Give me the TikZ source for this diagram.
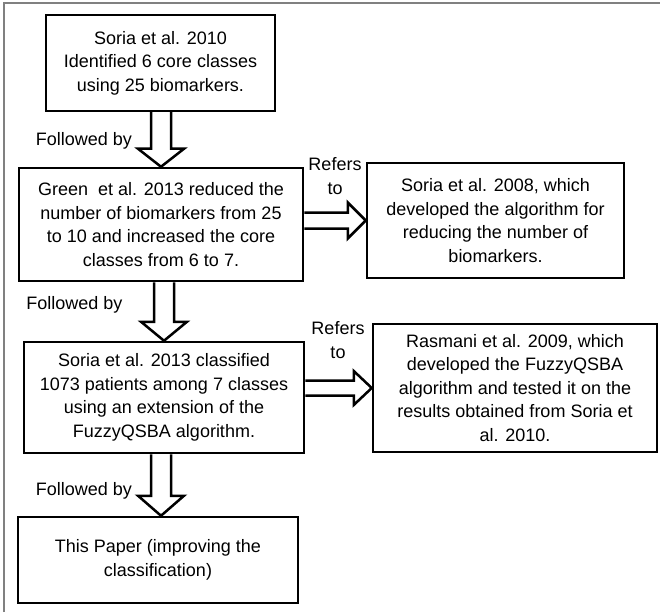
\documentclass[tikz,border=0pt]{standalone}
\usepackage{fontspec}
\setmainfont{Liberation Sans}
\usetikzlibrary{calc}

\begin{document}
\begin{tikzpicture}[x=1pt,y=-1pt,
    box/.style={draw,line width=2.5pt,align=center,inner sep=0pt,font=\fontsize{18}{23.5}\selectfont},
    hollow/.style={draw,line width=2.5pt,fill=white,line join=miter},
    note/.style={align=center,font=\fontsize{18}{23.5}\selectfont}]
      \useasboundingbox (0,0) rectangle (660,612);
      \draw[gray,line width=2pt] (4,612) -- (4,3) -- (660,3);
      % left column
      \node[box,minimum width=229pt,minimum height=96pt] (s2010) at (160.5,63)
        {Soria et al. 2010\\Identified 6 core classes\\using 25 biomarkers.};
      \node[box,minimum width=284pt,minimum height=113pt] (green) at (161,224.5)
        {Green\ \ et al. 2013 reduced the\\number of biomarkers from 25\\to 10 and increased the core\\classes from 6 to 7.};
      \node[box,minimum width=280pt,minimum height=111pt] (s2013) at (164,397.5)
        {Soria et al. 2013 classified\\1073 patients among 7 classes\\using an extension of the\\FuzzyQSBA algorithm.};
      \node[box,minimum width=280pt,minimum height=86pt] (paper) at (158,560)
        {This Paper (improving the\\classification)};
      % right column
      \node[box,minimum width=257pt,minimum height=115pt] (s2008) at (495.5,220.5)
        {Soria et al. 2008, which\\developed the algorithm for\\reducing the number of\\biomarkers.};
      \node[box,minimum width=284pt,minimum height=128pt] (rasmani) at (515,388)
        {Rasmani et al. 2009, which\\developed the FuzzyQSBA\\algorithm and tested it on the\\results obtained from Soria et\\al. 2010.};
      % down arrows
      \coordinate (d1) at (s2010.south -| green.north);
      \draw[hollow] ($(d1)+(-10,0)$) -- ($(green.north)+(-10,-18)$) -- ($(green.north)+(-23,-18)$)
        -- (green.north) -- ($(green.north)+(23,-18)$) -- ($(green.north)+(10,-18)$) -- ($(d1)+(10,0)$);
      \coordinate (d2) at (green.south -| s2013.north);
      \draw[hollow] ($(d2)+(-10,0)$) -- ($(s2013.north)+(-10,-19)$) -- ($(s2013.north)+(-23,-19)$)
        -- (s2013.north) -- ($(s2013.north)+(23,-19)$) -- ($(s2013.north)+(10,-19)$) -- ($(d2)+(10,0)$);
      \coordinate (t3) at ($(paper.north)+(3,0)$);
      \coordinate (d3) at (s2013.south -| t3);
      \draw[hollow] ($(d3)+(-10,0)$) -- ($(t3)+(-10,-20)$) -- ($(t3)+(-23,-20)$)
        -- (t3) -- ($(t3)+(23,-20)$) -- ($(t3)+(10,-20)$) -- ($(d3)+(10,0)$);
      % right arrows
      \coordinate (r1) at (green.east |- s2008.west);
      \draw[hollow] ($(r1)+(0,-8)$) -- ($(s2008.west)+(-18,-8)$) -- ($(s2008.west)+(-18,-18)$)
        -- (s2008.west) -- ($(s2008.west)+(-18,18)$) -- ($(s2008.west)+(-18,8)$) -- ($(r1)+(0,8)$);
      \coordinate (r2) at (s2013.east |- rasmani.west);
      \draw[hollow] ($(r2)+(0,-7.5)$) -- ($(rasmani.west)+(-18,-7.5)$) -- ($(rasmani.west)+(-18,-17)$)
        -- (rasmani.west) -- ($(rasmani.west)+(-18,17)$) -- ($(rasmani.west)+(-18,7.5)$) -- ($(r2)+(0,7.5)$);
      % labels
      \node[note] (fb1) at (84,141) {Followed by};
      \node[note] (fb2) at (74.5,305) {Followed by};
      \node[note] (fb3) at (84,491) {Followed by};
      \node[note] (rt1) at (335,176) {Refers\\to};
      \node[note] (rt2) at (338,340) {Refers\\to};
    \end{tikzpicture}
\end{document}
